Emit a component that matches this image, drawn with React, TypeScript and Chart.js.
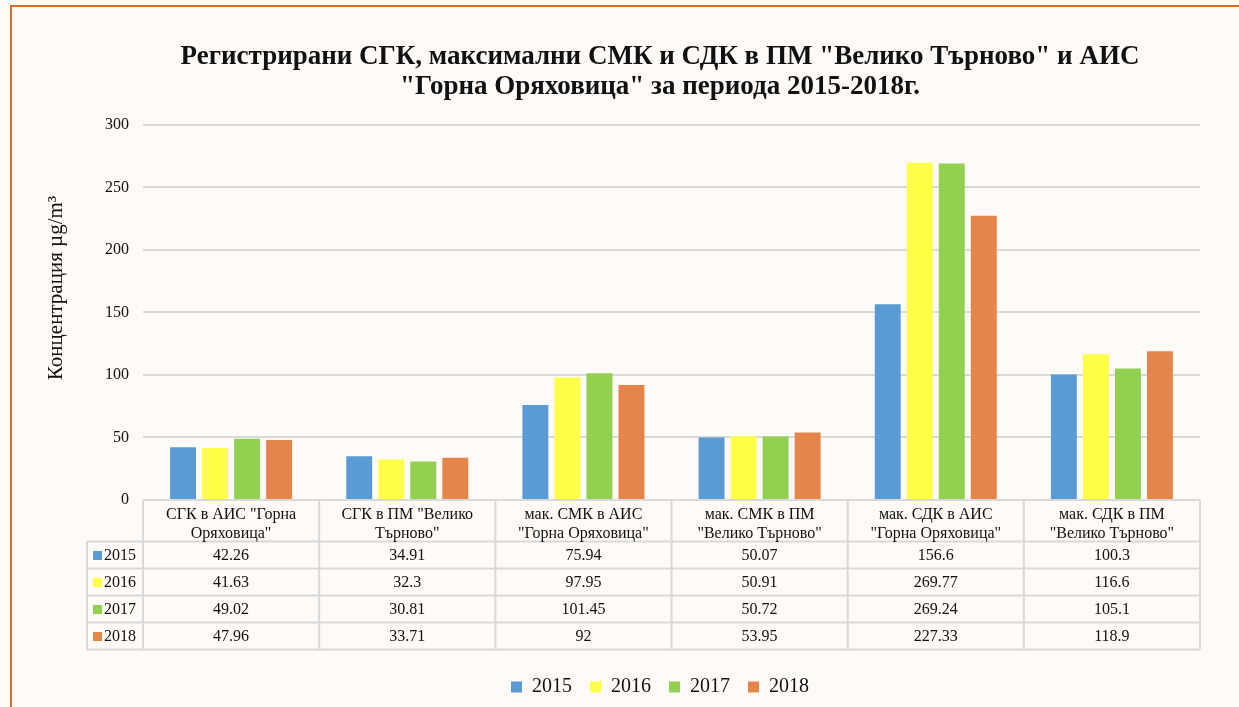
import React, { useEffect, useRef } from 'react';
import { Chart, registerables } from 'chart.js';

Chart.register(...registerables);

const categories: string[][] = [
  ['СГК в АИС "Горна', 'Оряховица"'],
  ['СГК в ПМ "Велико', 'Търново"'],
  ['мак. СМК в АИС', '"Горна Оряховица"'],
  ['мак. СМК в ПМ', '"Велико Търново"'],
  ['мак. СДК в АИС', '"Горна Оряховица"'],
  ['мак. СДК в ПМ', '"Велико Търново"'],
];
const years = ['2015', '2016', '2017', '2018'];
const values2015 = [42.26, 34.91, 75.94, 50.07, 156.6, 100.3];
const values2016 = [41.63, 32.3, 97.95, 50.91, 269.77, 116.6];
const values2017 = [49.02, 30.81, 101.45, 50.72, 269.24, 105.1];
const values2018 = [47.96, 33.71, 92, 53.95, 227.33, 118.9];
const seriesValues = [values2015, values2016, values2017, values2018];
const colors = ['#5B9BD5', '#FFFF47', '#92D050', '#E5854A'];
const titleLines = [
  'Регистрирани СГК, максимални СМК и СДК в ПМ "Велико Търново" и АИС',
  '"Горна Оряховица" за периода 2015-2018г.',
];
const yTitle = 'Концентрация µg/m³';
const yMin = 0;
const yMax = 300;
const yStep = 50;

const SERIF = '"Liberation Serif", "Times New Roman", serif';
const TEXT = '#111111';
const LINE = '#D9D9D9';

const tablePlugin = {
  id: 'dataTable',
  afterDraw(chart: any) {
    const { ctx, chartArea, scales } = chart;
    const xs = scales.x;
    const n = categories.length;
    const cw = (chartArea.right - chartArea.left) / n;
    const top = chartArea.bottom;
    const headerH = 41.5;
    const rowH = 27;
    const colLeft = 87;
    const left = chartArea.left;
    const right = chartArea.right;
    const bottom = top + headerH + rowH * years.length;

    ctx.save();
    ctx.strokeStyle = LINE;
    ctx.lineWidth = 2;
    const line = (x1: number, y1: number, x2: number, y2: number) => {
      ctx.beginPath();
      ctx.moveTo(x1, y1);
      ctx.lineTo(x2, y2);
      ctx.stroke();
    };
    line(left, top, right, top);
    for (let r = 0; r <= years.length; r++) {
      const y = top + headerH + r * rowH;
      line(colLeft, y, right, y);
    }
    line(colLeft, top + headerH, colLeft, bottom);
    for (let i = 0; i <= n; i++) {
      const xx = left + i * cw;
      line(xx, top, xx, bottom);
    }

    ctx.fillStyle = TEXT;
    ctx.font = `16px ${SERIF}`;
    ctx.textAlign = 'center';
    ctx.textBaseline = 'middle';
    for (let i = 0; i < n; i++) {
      const cx = xs.getPixelForValue(i);
      const lines = categories[i];
      ctx.fillText(lines[0], cx, top + 15);
      ctx.fillText(lines[1], cx, top + 34);
      for (let r = 0; r < years.length; r++) {
        const cy = top + headerH + r * rowH + rowH / 2 + 1;
        ctx.fillText(String(seriesValues[r][i]), cx, cy);
      }
    }
    ctx.textAlign = 'left';
    for (let r = 0; r < years.length; r++) {
      const cy = top + headerH + r * rowH + rowH / 2 + 1;
      ctx.fillStyle = colors[r];
      ctx.fillRect(93, cy - 5, 9, 9);
      ctx.fillStyle = TEXT;
      ctx.fillText(years[r], 104, cy);
    }

    // y axis title
    ctx.save();
    ctx.translate(56, 288);
    ctx.rotate(-Math.PI / 2);
    ctx.font = `21px ${SERIF}`;
    ctx.textAlign = 'center';
    ctx.textBaseline = 'middle';
    ctx.fillStyle = TEXT;
    ctx.fillText(yTitle, 0, 0);
    ctx.restore();

    ctx.restore();
  },
};

export default function App() {
  const ref = useRef<HTMLCanvasElement | null>(null);

  useEffect(() => {
    if (!ref.current) return;
    const chart = new Chart(ref.current, {
      type: 'bar',
      data: {
        labels: categories,
        datasets: years.map((y, i) => ({
          label: y,
          data: seriesValues[i],
          backgroundColor: colors[i],
          borderWidth: 0,
          categoryPercentage: 0.727,
          barPercentage: 0.81,
        })),
      },
      options: {
        animation: false,
        responsive: false,
        maintainAspectRatio: false,
        layout: { padding: { left: 0, right: 0, top: 0, bottom: 0 } },
        plugins: {
          title: {
            display: true,
            text: titleLines,
            color: TEXT,
            font: { family: SERIF, size: 27, weight: 'bold', lineHeight: 1.111 },
            padding: { top: 42, bottom: 23 },
          },
          legend: {
            position: 'bottom',
            labels: {
              color: TEXT,
              font: { family: SERIF, size: 20 },
              boxWidth: 11,
              boxHeight: 11,
              padding: 18,
            },
          },
          tooltip: { enabled: false },
        },
        scales: {
          x: {
            type: 'category',
            ticks: { display: false },
            grid: { display: false },
            border: { display: false },
            afterFit: (s: any) => {
              s.height = 159;
            },
          },
          y: {
            type: 'linear',
            min: yMin,
            max: yMax,
            ticks: {
              stepSize: yStep,
              color: TEXT,
              font: { family: SERIF, size: 16 },
              padding: 14,
            },
            grid: { color: LINE, lineWidth: 2, drawTicks: false },
            border: { display: false },
            afterFit: (s: any) => {
              s.width = 143;
            },
          },
          y2: {
            type: 'linear',
            position: 'right',
            display: true,
            ticks: { display: false },
            grid: { display: false, drawTicks: false },
            border: { display: false },
            afterFit: (s: any) => {
              s.width = 120;
            },
          },
        },
      },
      plugins: [tablePlugin],
    });
    return () => chart.destroy();
  }, []);

  return (
    <div
      style={{
        position: 'fixed',
        left: 0,
        top: 0,
        width: 1239,
        height: 707,
        overflow: 'hidden',
        background: '#FDFAF7',
      }}
    >
      <canvas
        ref={ref}
        width={1320}
        height={707}
        style={{ position: 'absolute', left: 0, top: 0, width: 1320, height: 707 }}
      />
      <div
        style={{
          position: 'absolute',
          left: 10,
          top: 5,
          width: 1400,
          height: 800,
          borderLeft: '2px solid #DE6A2A',
          borderTop: '2px solid #DE6A2A',
          pointerEvents: 'none',
        }}
      />
    </div>
  );
}
